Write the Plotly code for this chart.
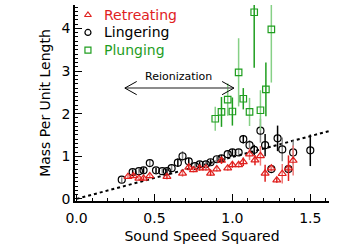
import plotly.graph_objects as go

# ---- data ----
ling_x = [0.29, 0.36, 0.40, 0.43, 0.47, 0.51, 0.55, 0.58, 0.61, 0.65, 0.68, 0.72, 0.76, 0.79,
          0.83, 0.86, 0.90, 0.93, 0.97, 1.00, 1.04, 1.07, 1.11, 1.14, 1.18, 1.21, 1.25, 1.29,
          1.32, 1.36, 1.39, 1.50]
ling_y = [0.45, 0.63, 0.65, 0.67, 0.84, 0.67, 0.65, 0.65, 0.72, 0.85, 1.00, 0.88, 0.77, 0.81,
          0.81, 0.86, 0.93, 0.95, 1.05, 1.09, 1.09, 1.40, 1.26, 1.15, 1.60, 1.26, 0.70, 1.42,
          1.16, 0.70, 1.09, 1.14]
ling_err = [0.06, 0.06, 0.06, 0.07, 0.07, 0.06, 0.06, 0.06, 0.08, 0.10, 0.12, 0.08, 0.07, 0.07,
            0.07, 0.07, 0.07, 0.08, 0.08, 0.08, 0.08, 0.10, 0.12, 0.12, 0.28, 0.26, 0.06, 0.30,
            0.28, 0.07, 0.28, 0.37]

retr_x = [0.33, 0.365, 0.40, 0.43, 0.47, 0.58, 0.68, 0.72, 0.75, 0.79, 0.83, 0.86, 0.90, 0.93,
          0.97, 1.00, 1.04, 1.07, 1.11, 1.145, 1.18, 1.21, 1.25, 1.285, 1.32, 1.36, 1.39]
retr_y = [0.52, 0.54, 0.48, 0.48, 0.54, 0.52, 0.60, 0.74, 0.68, 0.72, 0.72, 0.60, 0.70, 0.90,
          0.72, 0.80, 0.80, 0.87, 1.05, 0.91, 1.01, 0.60, 0.72, 0.44, 0.59, 0.72, 0.90]
retr_err = [0.05, 0.05, 0.05, 0.05, 0.06, 0.06, 0.08, 0.07, 0.06, 0.06, 0.06, 0.06, 0.06, 0.08,
            0.06, 0.07, 0.07, 0.10, 0.14, 0.12, 0.23, 0.20, 0.08, 0.06, 0.23, 0.30, 0.35]

plung_x = [0.89, 0.93, 0.97, 1.00, 1.04, 1.07, 1.11, 1.14, 1.18, 1.215, 1.25]
plung_y = [1.88, 2.04, 2.33, 2.05, 2.97, 2.35, 2.04, 4.38, 2.08, 2.57, 3.98]
plung_err = [0.28, 0.35, 0.38, 0.33, 0.80, 0.25, 0.33, 1.30, 0.47, 0.63, 1.25]

fit_x = [0.0, 1.62]
fit_y = [0.0, 1.59]

arrow_x = [0.31, 1.01]
arrow_y = 2.6
reion_label = "Reionization"
reion_pos = (0.655, 2.88)

x_ticks = [0.0, 0.5, 1.0, 1.5]
y_ticks = [0, 1, 2, 3, 4]

legend_names = ["Retreating", "Lingering", "Plunging"]
legend_rows = [0.949, 0.860, 0.770]   # axes fraction
legend_sym_x = 0.051
legend_text_x = 0.106

RED = "#e0201e"
RED_L = "#f07a78"
GREEN = "#1f9e1f"
GREEN_L = "#86d086"
BLACK = "#000000"
GRAY = "#8a8a8a"
FONT = "DejaVu Sans"

fig = go.Figure()

# fit line
fig.add_trace(go.Scatter(x=fit_x, y=fit_y, mode="lines",
                         line=dict(color="black", width=2, dash="dot"),
                         showlegend=False, hoverinfo="skip"))


def add_series(xs, ys, es, symbol, dark, light, size):
    for parity, col in ((0, light), (1, dark)):
        idx = [i for i in range(len(xs)) if i % 2 == parity]
        fig.add_trace(go.Scatter(
            x=[xs[i] for i in idx], y=[ys[i] for i in idx], mode="markers",
            marker=dict(symbol=symbol, size=size, color=dark, line=dict(color=dark, width=1.2)),
            error_y=dict(type="data", array=[es[i] for i in idx], color=col,
                         thickness=1.5, width=0),
            showlegend=False, hoverinfo="skip"))


add_series(ling_x, ling_y, ling_err, "circle-open", BLACK, GRAY, 7)
add_series(retr_x, retr_y, retr_err, "triangle-up-open", RED, RED_L, 7)
add_series(plung_x, plung_y, plung_err, "square-open", GREEN, GREEN_L, 6.5)

# manual legend (markers on an invisible overlay axis in axes-fraction units)
for name, row, sym, col in zip(legend_names, legend_rows,
                               ["triangle-up-open", "circle-open", "square-open"],
                               [RED, BLACK, GREEN]):
    fig.add_trace(go.Scatter(x=[legend_sym_x], y=[row], xaxis="x2", yaxis="y2", mode="markers",
                             marker=dict(symbol=sym, size=6, color=col, line=dict(color=col, width=1.2)),
                             showlegend=False, hoverinfo="skip"))
    fig.add_annotation(x=legend_text_x, y=row, xref="paper", yref="paper", text=name,
                       showarrow=False, xanchor="left", yanchor="middle",
                       font=dict(family=FONT, size=14, color=col))

# reionization arrow
fig.add_trace(go.Scatter(x=arrow_x, y=[arrow_y, arrow_y], mode="lines",
                         line=dict(color="#666666", width=1.5),
                         showlegend=False, hoverinfo="skip"))
hx, hy = 0.076, 0.155
for tip, d in ((arrow_x[0], 1), (arrow_x[1], -1)):
    fig.add_shape(type="path",
                  path=f"M {tip + d*hx} {arrow_y + hy} L {tip} {arrow_y} L {tip + d*hx} {arrow_y - hy}",
                  xref="x", yref="y", line=dict(color="black", width=1))
fig.add_annotation(x=reion_pos[0], y=reion_pos[1], text=reion_label, showarrow=False,
                   font=dict(family=FONT, size=11, color="black"))

fig.update_layout(
    width=350, height=250,
    margin=dict(l=75, r=21, t=5, b=49),
    paper_bgcolor="white", plot_bgcolor="white",
    font=dict(family=FONT, size=14, color="black"),
    showlegend=False,
    xaxis2=dict(overlaying="x", range=[0, 1], visible=False),
    yaxis2=dict(overlaying="y", range=[0, 1], visible=False),
)
fig.layout.xaxis.update(range=[-0.01, 1.62], tickvals=x_ticks, ticktext=[f"{v:.1f}" for v in x_ticks],
                        ticks="inside", ticklen=7, tickwidth=1, tickcolor="black", automargin=False,
                        ticklabelstandoff=3,
                        minor=dict(dtick=0.1, tick0=0, ticks="inside", ticklen=3, tickcolor="black"),
                        showline=True, linecolor="black", linewidth=1.5, showgrid=False, zeroline=False,
                        title=dict(text="Sound Speed Squared", standoff=7, font=dict(size=14)))
fig.layout.yaxis.update(range=[-0.05, 4.55], tickvals=y_ticks, ticktext=[str(v) for v in y_ticks],
                        ticks="inside", ticklen=7, tickwidth=1, tickcolor="black", automargin=False,
                        minor=dict(dtick=0.1, tick0=0, ticks="inside", ticklen=3, tickcolor="black"),
                        showline=True, linecolor="black", linewidth=1.5, showgrid=False, zeroline=False,
                        title=dict(text="Mass Per Unit Length", standoff=8, font=dict(size=14)))

fig.write_html("out.html", config={"displayModeBar": False},
               post_script="document.body.style.margin='0';")
